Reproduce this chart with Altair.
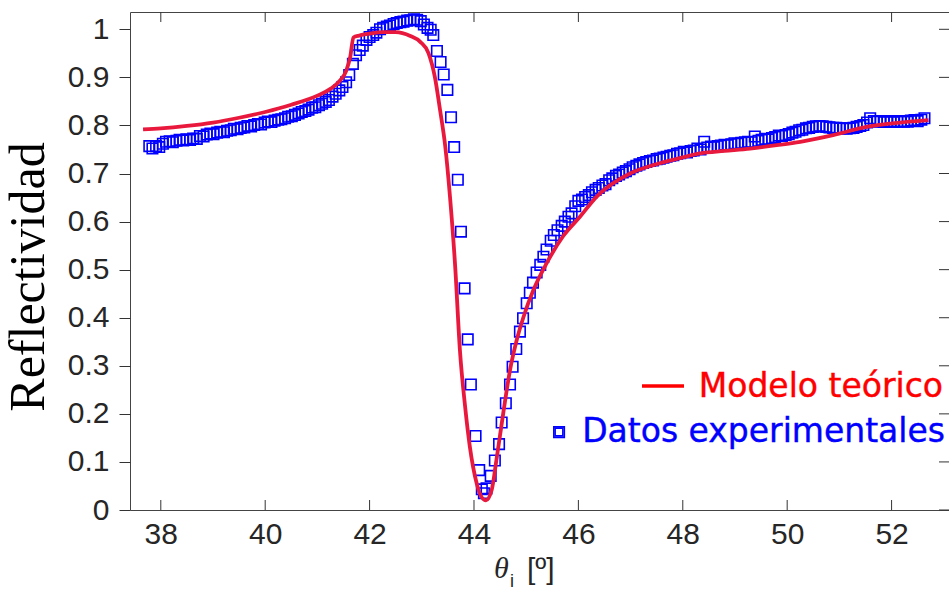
import altair as alt
import pandas as pd

# ---------------- data ----------------
# Theoretical model (red line)
model_x = [37.66, 38.0, 38.5, 39.0, 39.5, 40.0, 40.5, 41.0, 41.25, 41.43, 41.55, 41.63,
           41.69, 41.8, 42.0, 42.26, 42.5, 42.78, 42.97, 43.13, 43.25, 43.35, 43.45,
           43.54, 43.64, 43.73, 43.83, 43.92, 44.05, 44.15, 44.23, 44.34, 44.43, 44.56,
           44.69, 44.82, 44.95, 45.14, 45.39, 45.71, 46.03, 46.35, 46.99, 47.45, 47.94,
           48.33, 48.8, 49.29, 49.8, 50.25, 50.88, 51.52, 52.16, 52.71]
model_y = [0.792, 0.794, 0.799, 0.806, 0.816, 0.828, 0.843, 0.862, 0.876, 0.893, 0.913, 0.943,
           0.983, 0.987, 0.991, 0.994, 0.994, 0.986, 0.974, 0.950, 0.901, 0.832, 0.756,
           0.652, 0.506, 0.333, 0.215, 0.132, 0.056, 0.026, 0.020, 0.042, 0.104, 0.201,
           0.291, 0.354, 0.402, 0.458, 0.513, 0.570, 0.610, 0.652, 0.700, 0.718, 0.732,
           0.742, 0.747, 0.752, 0.759, 0.766, 0.780, 0.797, 0.806, 0.811]

# Experimental data (blue squares), read segment by segment
exp_x_left = [37.78, 37.84, 37.91, 37.97, 38.04, 38.10, 38.17, 38.23, 38.30, 38.36,
              38.43, 38.49, 38.56, 38.62, 38.69, 38.75, 38.82, 38.88, 38.95, 39.01,
              39.08, 39.14, 39.21, 39.27, 39.34, 39.40, 39.47, 39.53, 39.60, 39.66,
              39.73, 39.79, 39.86, 39.92, 39.99, 40.05, 40.12, 40.18, 40.25, 40.31,
              40.38, 40.44, 40.51, 40.57, 40.64, 40.70, 40.77, 40.83, 40.90, 40.96, 41.03]
exp_y_left = [0.757, 0.752, 0.757, 0.755, 0.762, 0.766, 0.767, 0.765, 0.768, 0.770,
              0.769, 0.771, 0.770, 0.773, 0.772, 0.778, 0.777, 0.781, 0.783, 0.782,
              0.785, 0.787, 0.786, 0.789, 0.790, 0.793, 0.792, 0.795, 0.796, 0.799,
              0.798, 0.801, 0.803, 0.802, 0.806, 0.808, 0.807, 0.810, 0.812, 0.813,
              0.815, 0.818, 0.819, 0.822, 0.825, 0.828, 0.830, 0.833, 0.837, 0.838, 0.842]

exp_x_peak = [41.09, 41.16, 41.22, 41.29, 41.35, 41.42, 41.48, 41.55, 41.61, 41.68,
              41.74, 41.81, 41.87, 41.94, 42.00, 42.07, 42.13, 42.20, 42.26, 42.33,
              42.39, 42.46, 42.52, 42.59, 42.65, 42.72, 42.78, 42.85, 42.91, 42.98,
              43.04, 43.11, 43.17, 43.22]
exp_y_peak = [0.845, 0.849, 0.853, 0.860, 0.866, 0.873, 0.880, 0.890, 0.905, 0.928,
              0.946, 0.957, 0.966, 0.978, 0.984, 0.988, 0.993, 1.000, 1.003, 1.006,
              1.008, 1.011, 1.013, 1.015, 1.016, 1.018, 1.019, 1.021, 1.020, 1.017,
              1.010, 1.003, 0.999, 0.988]

exp_x_dip = [43.29, 43.36, 43.42, 43.49, 43.56, 43.62, 43.69, 43.75, 43.82, 43.88,
             43.94, 44.03, 44.10, 44.15, 44.19, 44.24, 44.32, 44.40, 44.48, 44.53,
             44.61, 44.69, 44.74, 44.81, 44.88, 44.94, 45.01, 45.07, 45.13, 45.20,
             45.27, 45.33, 45.39, 45.47, 45.53, 45.60, 45.68, 45.74, 45.81, 45.87, 45.63]
exp_y_dip = [0.955, 0.932, 0.906, 0.874, 0.817, 0.755, 0.687, 0.579, 0.461, 0.355,
             0.261, 0.154, 0.083, 0.043, 0.035, 0.045, 0.071, 0.103, 0.137, 0.182,
             0.222, 0.261, 0.298, 0.335, 0.371, 0.399, 0.430, 0.452, 0.473, 0.494,
             0.510, 0.527, 0.542, 0.560, 0.572, 0.582, 0.591, 0.600, 0.610, 0.617, 0.162]

exp_x_right = [45.94, 46.00, 46.07, 46.13, 46.20, 46.26, 46.33, 46.39, 46.46, 46.52,
               46.59, 46.65, 46.72, 46.78, 46.85, 46.91, 46.98, 47.04, 47.11, 47.17,
               47.24, 47.30, 47.37, 47.43, 47.50, 47.56, 47.63, 47.69, 47.76, 47.82,
               47.89, 47.95, 48.02, 48.08, 48.15, 48.21, 48.28, 48.34, 48.41, 48.47,
               48.54, 48.60, 48.67, 48.73, 48.80, 48.86, 48.93, 48.99, 49.06, 49.12,
               49.19, 49.25, 49.32, 49.38, 49.45, 49.51, 49.58, 49.64, 49.71, 49.77,
               49.84, 49.90, 49.97, 50.03, 50.10, 50.16, 50.23, 50.29, 50.36, 50.42,
               50.49, 50.55, 50.62, 50.68, 50.75, 50.81, 50.88, 50.94, 51.01, 51.07,
               51.14, 51.20, 51.27, 51.33, 51.40, 51.46, 51.53, 51.59, 51.66, 51.72,
               51.79, 51.85, 51.92, 51.98, 52.05, 52.11, 52.18, 52.24, 52.31, 52.37,
               52.44, 52.50, 52.57, 52.63]
exp_y_right = [0.632, 0.643, 0.646, 0.651, 0.655, 0.661, 0.666, 0.670, 0.675, 0.678,
               0.686, 0.690, 0.695, 0.698, 0.702, 0.705, 0.709, 0.713, 0.716, 0.719,
               0.722, 0.724, 0.726, 0.727, 0.730, 0.731, 0.733, 0.735, 0.737, 0.738,
               0.741, 0.742, 0.745, 0.744, 0.747, 0.748, 0.752, 0.750, 0.766, 0.754,
               0.756, 0.755, 0.757, 0.758, 0.760, 0.759, 0.761, 0.763, 0.762, 0.764,
               0.765, 0.766, 0.765, 0.777, 0.768, 0.770, 0.772, 0.771, 0.774, 0.776,
               0.779, 0.778, 0.780, 0.782, 0.785, 0.787, 0.790, 0.791, 0.794, 0.795,
               0.797, 0.798, 0.799, 0.798, 0.797, 0.796, 0.795, 0.795, 0.794, 0.794,
               0.793, 0.794, 0.795, 0.797, 0.799, 0.801, 0.806, 0.815, 0.809, 0.808,
               0.809, 0.807, 0.808, 0.809, 0.807, 0.808, 0.809, 0.808, 0.808, 0.810,
               0.811, 0.809, 0.812, 0.815]

x_ticks = [38, 40, 42, 44, 46, 48, 50, 52]
y_ticks = [0, 0.1, 0.2, 0.3, 0.4, 0.5, 0.6, 0.7, 0.8, 0.9, 1]

legend_labels = ["Modelo teórico", "Datos experimentales"]
x_title_parts = ["θ", "i", "[º]"]
y_title = "Reflectividad"

# ---------------- build tables ----------------
exp_x = exp_x_left + exp_x_peak + exp_x_dip + exp_x_right
exp_y = exp_y_left + exp_y_peak + exp_y_dip + exp_y_right
assert len(exp_x) == len(exp_y)
assert len(model_x) == len(model_y)
exp_df = pd.DataFrame({"x": exp_x, "y": exp_y})
model_df = pd.DataFrame({"x": model_x, "y": model_y})
xt_df = pd.DataFrame({"x": x_ticks})
yt_df = pd.DataFrame({"y": y_ticks})

W, H = 819, 498
xs = alt.Scale(domain=[37.41, 53.1], nice=False, zero=False)
ys = alt.Scale(domain=[0, 1.036], nice=False, zero=False)

LABEL_FONT = "Liberation Sans"
AX_COLOR = "#262626"

x_axis = alt.Axis(title=None, values=x_ticks, ticks=False, domain=False, grid=False,
                  labelFont=LABEL_FONT, labelFontSize=30, labelColor=AX_COLOR,
                  labelPadding=9, labelFlush=False)
y_axis = alt.Axis(title=None, values=y_ticks, format="~g", ticks=True, tickSize=11,
                  tickColor="#333333", domain=False, grid=False,
                  labelFont=LABEL_FONT, labelFontSize=30, labelColor=AX_COLOR,
                  labelPadding=10, labelFlush=False, labelOverlap=False)

X = alt.X("x:Q", scale=xs, axis=x_axis)
Y = alt.Y("y:Q", scale=ys, axis=y_axis)

BLUE = "#0000FF"
RED = "#E8193C"

points = alt.Chart(exp_df).mark_point(
    shape="square", filled=False, size=110, strokeWidth=1.6, color=BLUE, opacity=1
).encode(x=X, y=Y)

line = alt.Chart(model_df).mark_line(
    color=RED, strokeWidth=3.8, interpolate="monotone"
).encode(x=X, y=Y)

tick_col = "#333333"
top_ticks = alt.Chart(xt_df).mark_rule(color=tick_col, strokeWidth=1).encode(
    x=X, y=alt.value(0), y2=alt.value(10))
bottom_ticks = alt.Chart(xt_df).mark_rule(color=tick_col, strokeWidth=1).encode(
    x=X, y=alt.value(H), y2=alt.value(H - 10))
right_ticks = alt.Chart(yt_df).mark_rule(color=tick_col, strokeWidth=1).encode(
    y=Y, x=alt.value(W), x2=alt.value(W - 10))

# legend
leg1 = alt.Chart(pd.DataFrame({"t": [legend_labels[0]]})).mark_text(
    font="DejaVu Sans", fontSize=33, color="#FF0000", align="right", baseline="alphabetic",
    stroke="#FF0000", strokeWidth=0.4
).encode(x=alt.value(813), y=alt.value(385), text="t:N")
leg2 = alt.Chart(pd.DataFrame({"t": [legend_labels[1]]})).mark_text(
    font="DejaVu Sans", fontSize=33, color=BLUE, align="right", baseline="alphabetic",
    stroke=BLUE, strokeWidth=0.4
).encode(x=alt.value(815), y=alt.value(430), text="t:N")
leg_line = alt.Chart(pd.DataFrame({"t": [legend_labels[0]]})).mark_rule(
    color="#FF0000", strokeWidth=3.5
).encode(x=alt.value(512), x2=alt.value(554), y=alt.value(374))
leg_sq = alt.Chart(pd.DataFrame({"t": [legend_labels[1]]})).mark_point(
    shape="square", filled=False, size=60, strokeWidth=1.6, color=BLUE, opacity=1
).encode(x=alt.value(429), y=alt.value(420))

# axis titles
ytitle = alt.Chart(pd.DataFrame({"t": [y_title]})).mark_text(
    font="Liberation Serif", fontSize=50, color="#000000", angle=270,
    align="center", baseline="alphabetic"
).encode(x=alt.value(-86), y=alt.value(265), text="t:N")
xt1 = alt.Chart(pd.DataFrame({"t": [x_title_parts[0]]})).mark_text(
    font="Liberation Serif", fontStyle="italic", fontSize=30, color=AX_COLOR,
    align="left", baseline="alphabetic"
).encode(x=alt.value(364), y=alt.value(566), text="t:N")
xt2 = alt.Chart(pd.DataFrame({"t": [x_title_parts[1]]})).mark_text(
    font=LABEL_FONT, fontSize=18, color=AX_COLOR, align="left", baseline="alphabetic"
).encode(x=alt.value(380), y=alt.value(575), text="t:N")
xt3 = alt.Chart(pd.DataFrame({"t": [x_title_parts[2]]})).mark_text(
    font=LABEL_FONT, fontSize=30, color=AX_COLOR, align="left", baseline="alphabetic"
).encode(x=alt.value(397), y=alt.value(567), text="t:N")

chart = alt.layer(
    points, line, top_ticks, bottom_ticks, right_ticks,
    leg_line, leg_sq, leg1, leg2, ytitle, xt1, xt2, xt3
).properties(
    width=W, height=H,
    autosize=alt.AutoSizeParams(type="none"),
    padding={"left": 130, "top": 12, "right": 0, "bottom": 80},
    background="white",
).configure_view(stroke="#444444", strokeWidth=1)

chart.save("out.html", embed_options={"renderer": "svg", "actions": False})
